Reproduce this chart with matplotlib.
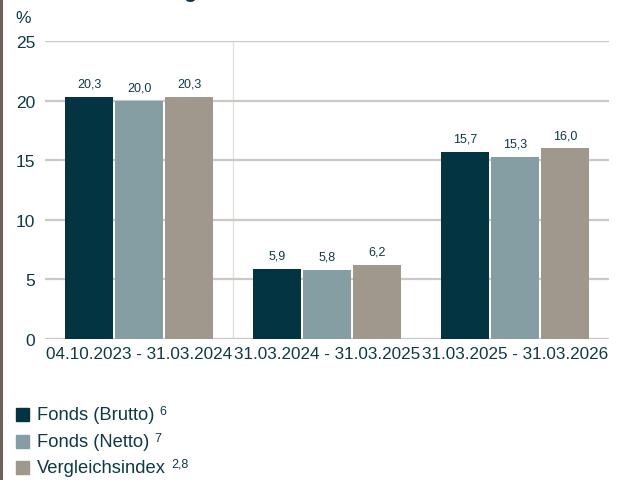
import matplotlib.pyplot as plt
import numpy as np
from matplotlib.patches import Rectangle
from matplotlib.lines import Line2D

plt.rcParams["font.family"] = ["Liberation Sans", "DejaVu Sans"]

periods = ["04.10.2023 - 31.03.2024", "31.03.2024 - 31.03.2025", "31.03.2025 - 31.03.2026"]
brutto = [20.3, 5.9, 15.7]
netto = [20.0, 5.8, 15.3]
index = [20.3, 6.2, 16.0]
series_names = ["Fonds (Brutto)", "Fonds (Netto)", "Vergleichsindex"]
footnotes = ["6", "7", "2,8"]
colors = ["#033441", "#859ea4", "#a0978d"]
text_col = "#0e3a47"
grid_col = "#cdc8c2"

W, H = 618, 481
fig = plt.figure(figsize=(W / 100, H / 100), dpi=100)
# axes in pixel coordinates: left 45, right 609, top 42, bottom 340
ax = fig.add_axes([45 / W, 1 - 340 / H, 564 / W, 298 / H])

x = np.arange(len(periods))
width = 0.26
offset = 0.266
for i, vals in enumerate([brutto, netto, index]):
    xs = x + (i - 1) * offset
    ax.bar(xs, vals, width=width, color=colors[i], zorder=3)
    for xv, v in zip(xs, vals):
        ax.text(xv, v + 0.6, f"{v:.1f}".replace(".", ","), ha="center", va="bottom",
                fontsize=9, color=text_col)

ax.set_xlim(-0.5, 2.5)
ax.set_ylim(0, 25)
ax.set_yticks([0, 5, 10, 15, 20, 25])
ax.grid(axis="y", color=grid_col, linewidth=1.6, zorder=0)
ax.axvline(0.5, color="#e2deda", linewidth=0.9, zorder=1)
for s in ax.spines.values():
    s.set_visible(False)
ax.tick_params(length=0, labelsize=12.5, labelcolor=text_col)
ax.tick_params(axis="y", pad=7)
ax.tick_params(axis="x", pad=5)
ax.set_xticks(x)
ax.set_xticklabels(periods, fontsize=12.3)

fig.text(15 / W, 1 - 23 / H, "%", fontsize=12.5, color=text_col)
# cropped title, only the descender shows
fig.text(198 / W, 1 + 2 / H, "Wertentwicklung", fontsize=15, fontweight="bold",
         color=text_col, ha="right", va="baseline")

# left border line
fig.add_artist(Line2D([1.5 / W, 1.5 / W], [0, 1], color="#6b605a", linewidth=2.2))

# legend
rows = [416, 443, 469]
for name, fn, c, y in zip(series_names, footnotes, colors, rows):
    fig.add_artist(Rectangle((16 / W, 1 - (y + 6) / H), 13 / W, 13 / H,
                             color=c, transform=fig.transFigure))
    t = fig.text(37 / W, 1 - y / H, name, fontsize=13.2, color=text_col, va="center")
    fig.canvas.draw()
    bb = t.get_window_extent()
    fig.text((bb.x1 + 5) / W, 1 - (y - 4) / H, fn, fontsize=9, color=text_col, va="center")

fig.savefig("out.png", dpi=100)
